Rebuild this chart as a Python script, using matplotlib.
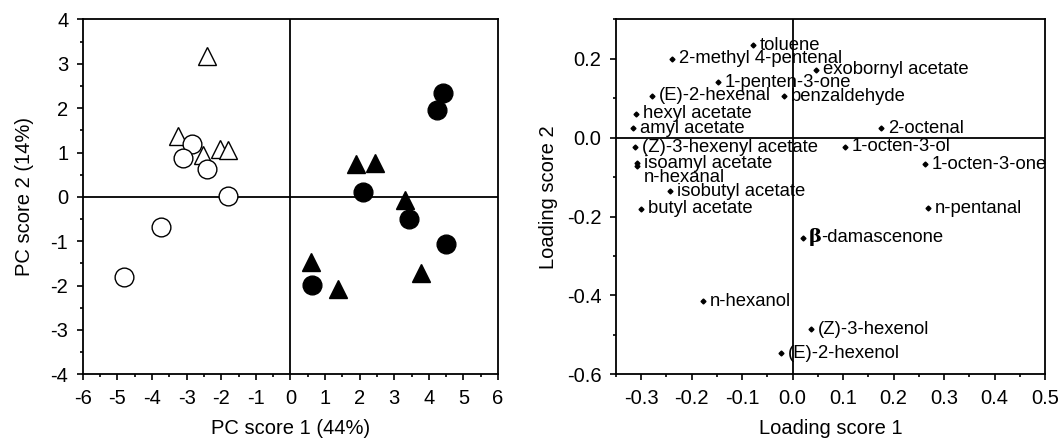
import matplotlib
matplotlib.use("Agg")
import matplotlib.pyplot as plt
from matplotlib.ticker import MultipleLocator

plt.rcParams['font.family'] = ['Liberation Sans', 'DejaVu Sans']

# PCA scores, four groups
open_tri_x = [-2.40, -3.24, -2.52, -2.03, -1.81]
open_tri_y = [3.17, 1.38, 0.94, 1.08, 1.05]
open_circ_x = [-2.85, -3.11, -2.42, -1.81, -3.73, -4.82]
open_circ_y = [1.19, 0.88, 0.63, 0.03, -0.67, -1.80]
fill_circ_x = [4.42, 4.23, 2.09, 3.43, 4.49, 0.62]
fill_circ_y = [2.35, 1.97, 0.11, -0.50, -1.06, -1.98]
fill_tri_x = [1.89, 2.43, 3.32, 3.76, 0.59, 1.38]
fill_tri_y = [0.75, 0.77, -0.07, -1.72, -1.46, -2.08]

# loadings
compounds = ['toluene', '2-methyl 4-pentenal', 'exobornyl acetate', '1-penten-3-one',
             '(E)-2-hexenal', 'benzaldehyde', 'hexyl acetate', 'amyl acetate', '2-octenal',
             '(Z)-3-hexenyl acetate', '1-octen-3-ol', 'isoamyl acetate', 'n-hexanal',
             '1-octen-3-one', 'isobutyl acetate', 'butyl acetate', 'n-pentanal',
             'β-damascenone', 'n-hexanol', '(Z)-3-hexenol', '(E)-2-hexenol']
load1 = [-0.079, -0.238, 0.046, -0.148, -0.279, -0.017, -0.311, -0.316, 0.175,
         -0.313, 0.103, -0.309, -0.309, 0.262, -0.242, -0.300, 0.268,
         0.021, -0.177, 0.036, -0.023]
load2 = [0.235, 0.201, 0.173, 0.141, 0.106, 0.105, 0.061, 0.024, 0.024,
         -0.024, -0.023, -0.065, -0.071, -0.067, -0.136, -0.180, -0.179,
         -0.254, -0.414, -0.486, -0.546]

fig = plt.figure(figsize=(10.62, 4.43), dpi=100)
ax1 = fig.add_axes([0.078, 0.155, 0.391, 0.801])
ax2 = fig.add_axes([0.580, 0.155, 0.404, 0.801])

ms = 13.5
ax1.plot(open_tri_x, open_tri_y, '^', ms=ms, mfc='white', mec='black', mew=1.0, ls='none')
ax1.plot(open_circ_x, open_circ_y, 'o', ms=ms, mfc='white', mec='black', mew=1.0, ls='none')
ax1.plot(fill_circ_x, fill_circ_y, 'o', ms=ms, mfc='black', mec='black', ls='none')
ax1.plot(fill_tri_x, fill_tri_y, '^', ms=ms, mfc='black', mec='black', ls='none')
ax1.axhline(0, color='black', lw=1.3, zorder=0)
ax1.axvline(0, color='black', lw=1.3, zorder=0)
ax1.set_xlim(-6, 6)
ax1.set_ylim(-4, 4)
ax1.xaxis.set_major_locator(MultipleLocator(1))
ax1.xaxis.set_minor_locator(MultipleLocator(0.5))
ax1.yaxis.set_major_locator(MultipleLocator(1))
ax1.yaxis.set_minor_locator(MultipleLocator(0.5))
ax1.set_xlabel('PC score 1 (44%)', fontsize=14.5, labelpad=8)
ax1.set_ylabel('PC score 2 (14%)', fontsize=14.5, labelpad=12)

ax2.plot(load1, load2, 'D', ms=2.5, color='black', ls='none')
for name, x, y in zip(compounds, load1, load2):
    if name == 'n-hexanal':
        ax2.annotate(name, (x, y), xytext=(5, -8.5), textcoords='offset points',
                     va='center', fontsize=13.3)
    elif name.startswith('β'):
        ax2.annotate('β', (x, y), xytext=(4, 1), textcoords='offset points',
                     va='center', fontsize=14, fontweight='bold', family='DejaVu Serif')
        ax2.annotate(name[1:], (x, y), xytext=(13, 0), textcoords='offset points',
                     va='center', fontsize=13.3)
    else:
        ax2.annotate(name, (x, y), xytext=(5, 0), textcoords='offset points',
                     va='center', fontsize=13.3)
ax2.axhline(0, color='black', lw=1.3, zorder=0)
ax2.axvline(0, color='black', lw=1.3, zorder=0)
ax2.set_xlim(-0.35, 0.5)
ax2.set_ylim(-0.6, 0.3)
ax2.set_xticks([-0.3, -0.2, -0.1, 0.0, 0.1, 0.2, 0.3, 0.4, 0.5])
ax2.set_yticks([-0.6, -0.4, -0.2, 0.0, 0.2])
ax2.xaxis.set_minor_locator(MultipleLocator(0.05))
ax2.yaxis.set_minor_locator(MultipleLocator(0.1))
ax2.set_xlabel('Loading score 1', fontsize=14.5, labelpad=8)
ax2.set_ylabel('Loading score 2', fontsize=14.5, labelpad=6)

for ax in (ax1, ax2):
    for s in ax.spines.values():
        s.set_linewidth(1.3)
    ax.tick_params(which='major', direction='out', length=4, width=1.2, labelsize=14.5, pad=6.5)
    ax.tick_params(which='minor', direction='out', length=2.3, width=1.2)

# plain hyphen minus signs like the original
ax1.xaxis.set_major_formatter(plt.FuncFormatter(lambda v, p: '%d' % round(v)))
ax1.yaxis.set_major_formatter(plt.FuncFormatter(lambda v, p: '%d' % round(v)))
ax2.xaxis.set_major_formatter(plt.FuncFormatter(lambda v, p: '%.1f' % v if abs(v) > 1e-9 else '0.0'))
ax2.yaxis.set_major_formatter(plt.FuncFormatter(lambda v, p: '%.1f' % v if abs(v) > 1e-9 else '0.0'))

fig.savefig('out.png', dpi=100)
